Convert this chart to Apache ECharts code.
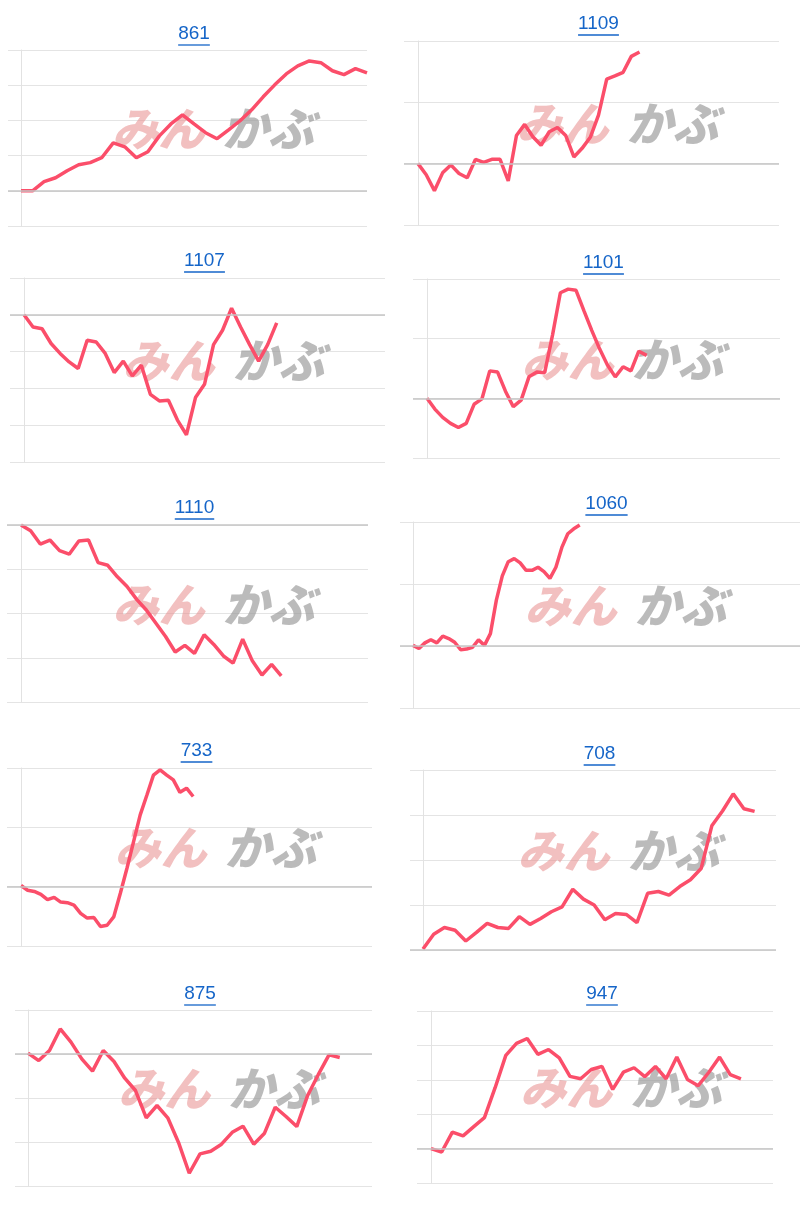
<!DOCTYPE html>
<html>
<head>
<meta charset="utf-8">
<script src="https://cdn.jsdelivr.net/npm/echarts@6/dist/echarts.min.js"></script>
<style>
  html, body {margin: 0; padding: 0; background: #fff;}
  #main {width: 800px; height: 1205px;}
</style>
</head>
<body>
<div id="main"></div>
<script>
// 銘柄コード（タイトル）
const codes = ["861", "1109", "1107", "1101", "1110", "1060", "733", "708", "875", "947"];

// 値はいずれも濃い基準線を 0 とした目盛単位
const s861 = [0, 0, 0.26, 0.37, 0.57, 0.74, 0.80, 0.94, 1.36, 1.25, 0.94, 1.11, 1.56, 1.90, 2.16, 1.90, 1.65, 1.48, 1.73, 1.99, 2.30, 2.67, 3.01, 3.32, 3.55, 3.69, 3.64, 3.41, 3.30, 3.47, 3.35];
const s1109 = [0, -0.18, -0.44, -0.15, -0.02, -0.16, -0.23, 0.07, 0.02, 0.07, 0.07, -0.28, 0.46, 0.64, 0.44, 0.30, 0.52, 0.59, 0.46, 0.11, 0.25, 0.43, 0.79, 1.38, 1.43, 1.49, 1.75, 1.82];
const s1107 = [0, -0.33, -0.38, -0.78, -1.05, -1.28, -1.46, -0.69, -0.74, -1.05, -1.57, -1.26, -1.66, -1.37, -2.16, -2.34, -2.32, -2.86, -3.26, -2.25, -1.89, -0.81, -0.42, 0.18, -0.33, -0.81, -1.26, -0.81, -0.22];
const s1101 = [0, -0.18, -0.32, -0.42, -0.49, -0.42, -0.1, -0.01, 0.46, 0.44, 0.12, -0.14, -0.03, 0.36, 0.44, 0.43, 1.06, 1.77, 1.83, 1.81, 1.47, 1.14, 0.83, 0.56, 0.36, 0.53, 0.46, 0.79, 0.72];
const s1110 = [0, -0.13, -0.43, -0.34, -0.58, -0.66, -0.36, -0.34, -0.85, -0.91, -1.17, -1.39, -1.68, -1.92, -2.22, -2.52, -2.87, -2.72, -2.90, -2.48, -2.70, -2.96, -3.12, -2.58, -3.07, -3.39, -3.15, -3.41];
const s1060 = [0.01, -0.04, 0.05, 0.10, 0.05, 0.16, 0.12, 0.06, -0.06, -0.05, -0.02, 0.10, 0.01, 0.20, 0.74, 1.13, 1.36, 1.41, 1.34, 1.22, 1.22, 1.27, 1.20, 1.09, 1.27, 1.59, 1.81, 1.89, 1.95];
const s733 = [0.02, -0.06, -0.08, -0.13, -0.22, -0.18, -0.26, -0.27, -0.31, -0.45, -0.53, -0.52, -0.67, -0.65, -0.51, -0.11, 0.31, 0.76, 1.21, 1.54, 1.88, 1.97, 1.88, 1.80, 1.59, 1.66, 1.52];
const s708 = [0.02, 0.35, 0.50, 0.44, 0.20, 0.39, 0.59, 0.50, 0.48, 0.74, 0.57, 0.70, 0.85, 0.96, 1.35, 1.13, 1.00, 0.67, 0.81, 0.79, 0.61, 1.26, 1.30, 1.22, 1.41, 1.56, 1.81, 2.76, 3.09, 3.47, 3.14, 3.08];
const s875 = [0.02, -0.15, 0.08, 0.57, 0.27, -0.11, -0.39, 0.08, -0.17, -0.55, -0.83, -1.45, -1.17, -1.45, -2.01, -2.71, -2.27, -2.21, -2.05, -1.78, -1.64, -2.05, -1.80, -1.21, -1.42, -1.65, -0.95, -0.47, -0.02, -0.08];
const s947 = [0, -0.1, 0.48, 0.37, 0.64, 0.90, 1.77, 2.71, 3.06, 3.20, 2.74, 2.88, 2.64, 2.10, 2.03, 2.30, 2.39, 1.72, 2.22, 2.35, 2.09, 2.39, 2.03, 2.66, 2.01, 1.83, 2.22, 2.66, 2.15, 2.03];
const seriesList = [s861, s1109, s1107, s1101, s1110, s1060, s733, s708, s875, s947];

// y軸の範囲（目盛単位）と x軸の全期間（点の数）
const yMins = [-1, -1, -4, -1, -4, -1, -1, 0, -3, -1];
const yMaxs = [4, 2, 1, 2, 0, 2, 2, 4, 1, 4];
const xSpans = [30, 44, 40, 45, 36, 65, 53, 33, 32, 32];

// パネルの配置 [線の左端, 縦軸x, 右端, 上, 下]
const boxes = [
  [8, 21, 367, 50, 226], [404, 418, 779, 41, 225],
  [10, 24, 385, 278, 462], [413, 427, 780, 279, 458],
  [7, 21, 368, 525, 702], [400, 413, 800, 522, 708],
  [7, 21, 372, 768, 946], [410, 423, 776, 770, 950],
  [15, 28, 372, 1010, 1186], [417, 431, 773, 1011, 1183]
];
const titleY = [35, 25, 262, 264, 509, 505, 752, 755, 995, 995];

const font = "Helvetica, Arial, 'Liberation Sans', sans-serif";
const measure = document.createElement("canvas").getContext("2d");
measure.font = "19px " + font;

let option = {grid: [], xAxis: [], yAxis: [], series: [], graphic: [], animation: false};

for (let i = 0; i < codes.length; i++) {
  let b = boxes[i];
  let span = xSpans[i];
  let xMin = -(b[1] - b[0]) / (b[2] - b[1]) * span;
  option.grid.push({left: b[0], width: b[2] - b[0], top: b[3], height: b[4] - b[3]});
  option.xAxis.push({
    gridIndex: i, type: 'value', min: xMin, max: span, show: false
  });
  option.yAxis.push({
    gridIndex: i, type: 'value', min: yMins[i], max: yMaxs[i], interval: 1,
    axisLine: {show: true, onZero: true, lineStyle: {color: '#e2e2e2', width: 1}},
    axisTick: {show: false}, axisLabel: {show: false},
    splitLine: {lineStyle: {color: '#e4e4e4', width: 1}}
  });
  option.series.push({
    type: 'line', xAxisIndex: i, yAxisIndex: i,
    data: seriesList[i].map((v, k) => [k, v]),
    showSymbol: false, symbol: 'none',
    lineStyle: {color: '#fb4e6a', width: 3.5},
    markLine: {
      silent: true, symbol: 'none', label: {show: false},
      lineStyle: {color: '#c6c6c6', type: 'solid', width: 1.5},
      data: [{yAxis: 0}]
    },
    z: 3
  });

  // タイトル（下線付き）
  let cx = (b[1] + b[2]) / 2;
  let w = measure.measureText(codes[i]).width;
  option.graphic.push({
    type: 'text', left: cx - w / 2, top: titleY[i] - 11,
    style: {text: codes[i], fill: '#1565c8', font: "19px " + font}
  });
  option.graphic.push({
    type: 'line', shape: {x1: cx - w / 2, y1: titleY[i] + 10, x2: cx + w / 2, y2: titleY[i] + 10},
    style: {stroke: '#1565c8', lineWidth: 1.3}
  });

  // 透かしロゴ
  let my = (b[3] + b[4]) / 2 - 6;
  option.graphic.push({
    type: 'text', left: cx - 82, top: my - 26, z: 1,
    style: {text: 'みん', fill: 'rgba(232,140,140,0.55)', font: "italic 900 46px 'Noto Sans CJK JP'"}
  });
  option.graphic.push({
    type: 'text', left: cx + 28, top: my - 26, z: 1,
    style: {text: 'かぶ', fill: 'rgba(150,150,150,0.65)', font: "italic 900 46px 'Noto Sans CJK JP'"}
  });
}

let chart = echarts.init(document.getElementById('main'));
chart.setOption(option);
</script>
</body>
</html>
